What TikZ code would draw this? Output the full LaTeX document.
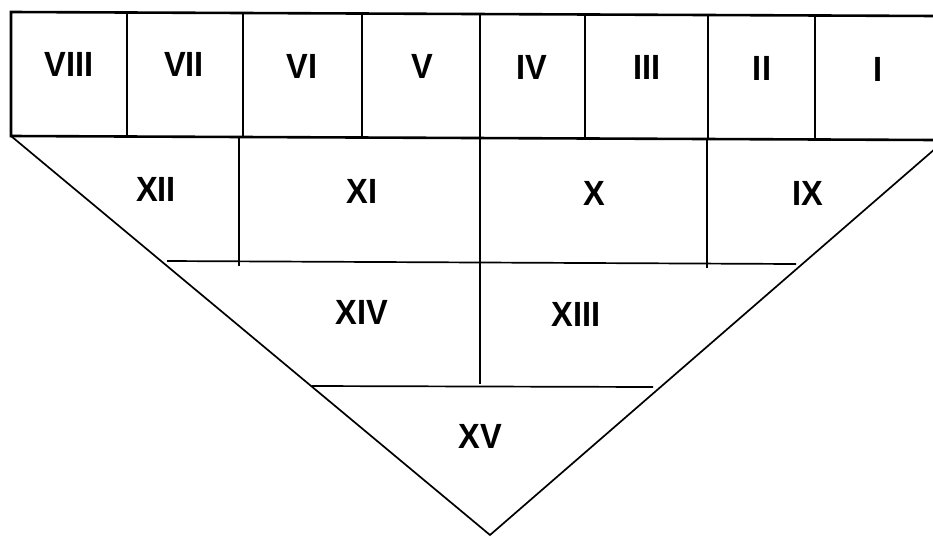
\documentclass[tikz,border=0pt]{standalone}
\usepackage{fontspec}
\setmainfont{Liberation Sans}
\newcommand{\rn}[1]{\scalebox{0.93}[1]{#1}}
\begin{document}
\begin{tikzpicture}[x=1pt,y=-1pt,
  lbl/.style={font=\bfseries\fontsize{35}{35}\selectfont, inner sep=0pt},
  frame/.style={line width=2.6pt, line join=miter},
  thin/.style={line width=1.7pt}]
\useasboundingbox (0,0) rectangle (933,536);
% top band corners
\coordinate (tl) at (11,12);
\coordinate (tr) at (936,16);
\coordinate (bl) at (11,136);
\coordinate (br) at (936,140);
\coordinate (apex) at (490,535);
\coordinate (rt) at (936,148);
% top band
\draw[frame] (tr) -- (tl) -- (bl) -- (br);
\foreach \x/\ya/\yb in {127/12.5/136.5, 243/13/137, 362/13.5/137.5, 480/14/138, 585/14.5/138.5, 708/15/139, 815/15.5/139.5}{
  \draw[thin] (\x,\ya) -- (\x,\yb);
}
% triangle sides
\draw[thin] (bl) -- (apex) -- (rt);
% inner lines
\coordinate (h1l) at (167,261);
\coordinate (h1r) at (796,264);
\coordinate (h2l) at (312,386);
\coordinate (h2r) at (653,387);
\draw[thin] (h1l) -- (h1r);
\draw[thin] (h2l) -- (h2r);
\draw[thin] (239,137) -- (239,266);
\draw[thin] (480,138) -- (480,384);
\draw[thin] (707,139) -- (707,268);
% labels
\node[lbl] (n8) at (69,64) {\rn{VIII}};
\node[lbl] (n7) at (184,64) {\rn{VII}};
\node[lbl] (n6) at (302,66) {\rn{VI}};
\node[lbl] (n5) at (422,66) {\rn{V}};
\node[lbl] (n4) at (532,67) {\rn{IV}};
\node[lbl] (n3) at (647,67) {\rn{III}};
\node[lbl] (n2) at (762,68) {\rn{II}};
\node[lbl] (n1) at (878,69) {\rn{I}};
\node[lbl] (n12) at (156,189) {\rn{XII}};
\node[lbl] (n11) at (362,191) {\rn{XI}};
\node[lbl] (n10) at (594,193) {\rn{X}};
\node[lbl] (n9) at (808,193) {\rn{IX}};
\node[lbl] (n14) at (362,312) {\rn{XIV}};
\node[lbl] (n13) at (576,314) {\rn{XIII}};
\node[lbl] (n15) at (480,436) {\rn{XV}};
\end{tikzpicture}
\end{document}
